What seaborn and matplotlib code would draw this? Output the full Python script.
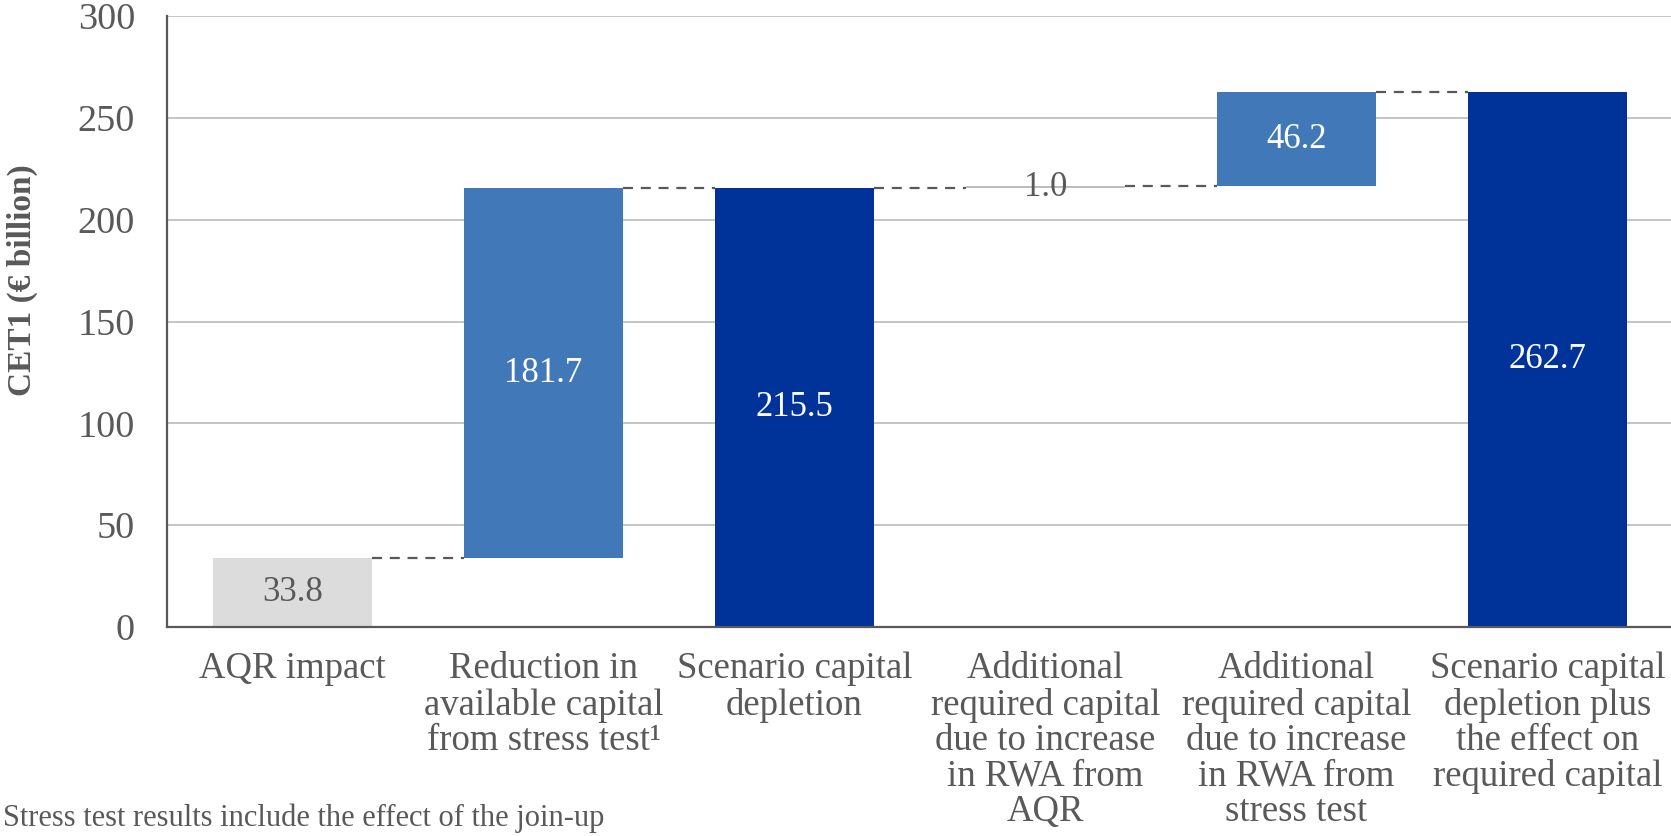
import matplotlib
matplotlib.use("Agg")
import matplotlib.pyplot as plt
import seaborn as sns
import pandas as pd

# Waterfall of CET1 capital shortfall components (€ billion)
categories = [
    "AQR impact",
    "Reduction in\navailable capital\nfrom stress test¹",
    "Scenario capital\ndepletion",
    "Additional\nrequired capital\ndue to increase\nin RWA from\nAQR",
    "Additional\nrequired capital\ndue to increase\nin RWA from\nstress test",
    "Scenario capital\ndepletion plus\nthe effect on\nrequired capital",
]
values = [33.8, 181.7, 215.5, 1.0, 46.2, 262.7]
bases = [0.0, 33.8, 0.0, 215.5, 216.5, 0.0]
value_labels = ["33.8", "181.7", "215.5", "1.0", "46.2", "262.7"]
y_ticks = [0, 50, 100, 150, 200, 250, 300]
footnote = "Stress test results include the effect of the join-up"

bar_colors = ["#DCDCDC", "#4178B8", "#003399", "#BDBDBD", "#4178B8", "#003399"]
label_colors = ["#595959", "white", "white", "#595959", "white", "white"]
text_gray = "#595959"

sns.set_theme(style="white")
plt.rcParams["font.family"] = ["Liberation Serif", "DejaVu Serif"]

fig = plt.figure(figsize=(16.71, 8.36), dpi=100)
ax = fig.add_axes([167 / 1671, 1 - 627 / 836, (1673 - 167) / 1671, (627 - 16) / 836])

df = pd.DataFrame({"category": categories, "value": values})
sns.barplot(data=df, x="category", y="value", bottom=bases, width=0.63,
            color=bar_colors[0], errorbar=None, linewidth=0, ax=ax, zorder=2)
for patch, c in zip(ax.patches, bar_colors):
    patch.set_facecolor(c)
    patch.set_edgecolor("none")

# dashed connectors between consecutive bars at the running total
half = 0.63 / 2
for i in range(len(values) - 1):
    level = bases[i] + values[i]
    ax.hlines(level, i + half, i + 1 - half, colors=text_gray,
              linestyles=(0, (4.5, 3.5)), linewidth=1.6, zorder=3)

# value labels inside the bars
for i, (b, v, lab, lc) in enumerate(zip(bases, values, value_labels, label_colors)):
    ax.text(i, b + v / 2, lab, ha="center", va="center", fontsize=25,
            color=lc, zorder=4)

ax.set_xlim(-0.5, 5.5)
ax.set_ylim(0, 300)
ax.set_yticks(y_ticks)
ax.set_yticklabels([str(t) for t in y_ticks], fontsize=27.5)
ax.set_xticks(range(len(categories)))
ax.set_xticklabels(categories, linespacing=1.04, va="top", fontsize=26.5)
ax.tick_params(axis="both", length=0, labelcolor=text_gray)
ax.tick_params(axis="y", pad=23)
ax.tick_params(axis="x", pad=18)

ax.set_axisbelow(True)
ax.yaxis.grid(True, color="#BFBFBF", linewidth=1.3)
ax.xaxis.grid(False)

for side in ("top", "right"):
    ax.spines[side].set_visible(False)
for side in ("left", "bottom"):
    ax.spines[side].set_color(text_gray)
    ax.spines[side].set_linewidth(1.6)

ax.set_xlabel("")
ax.set_ylabel("CET1 (€ billion)", fontsize=24, fontweight="bold", color=text_gray)
ax.yaxis.set_label_coords((22 - 167) / 1506, 0.568)
ax.yaxis.label.set_va("center")

fig.text(0.002, 3 / 836, footnote, ha="left", va="bottom",
         fontsize=22, color=text_gray)

fig.savefig("out.png", dpi=100)
